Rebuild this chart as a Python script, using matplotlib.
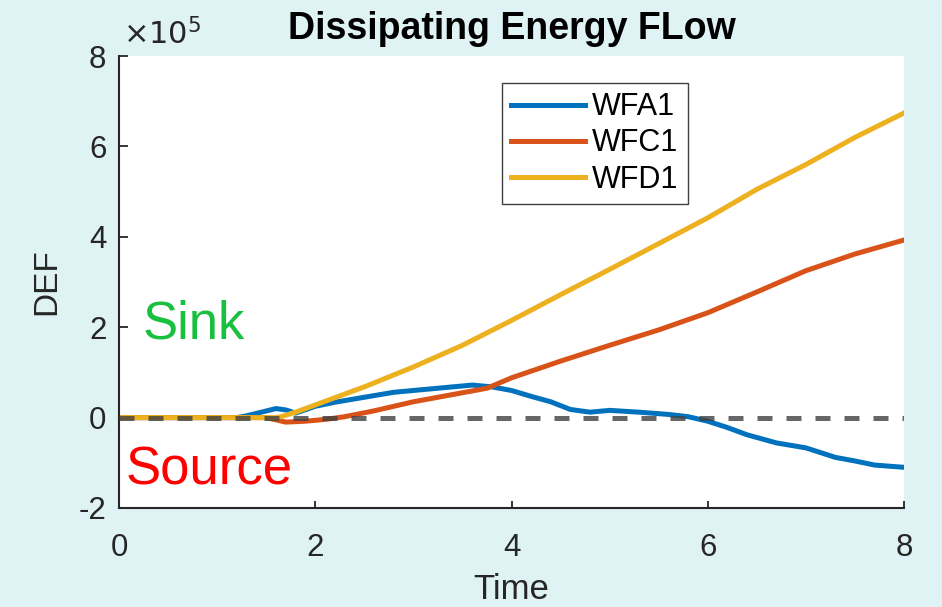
import matplotlib
matplotlib.use('Agg')
import matplotlib.pyplot as plt
from matplotlib.ticker import FuncFormatter

plt.rcParams['font.family'] = ['Liberation Sans', 'DejaVu Sans']

# values, DEF in units of 1e5
t_a = [0, 1.2, 1.3, 1.45, 1.6, 1.7, 1.8, 2.0, 2.2, 2.5, 2.8, 3.0, 3.3, 3.6, 3.8,
       4.0, 4.2, 4.4, 4.6, 4.8, 5.0, 5.3, 5.6, 5.8, 6.0, 6.2, 6.4, 6.7, 7.0,
       7.3, 7.5, 7.7, 8.0]
wfa1 = [0, 0, 0.04, 0.12, 0.2, 0.17, 0.1, 0.25, 0.34, 0.45, 0.56, 0.6, 0.66,
        0.72, 0.68, 0.6, 0.47, 0.35, 0.18, 0.12, 0.16, 0.12, 0.07, 0.02, -0.08,
        -0.22, -0.38, -0.56, -0.67, -0.88, -0.96, -1.05, -1.1]

t_c = [0, 1.5, 1.7, 1.9, 2.1, 2.3, 2.6, 3.0, 3.5, 3.75, 4.0, 4.5, 5.0, 5.5,
       6.0, 6.5, 7.0, 7.5, 8.0]
wfc1 = [0, 0, -0.1, -0.08, -0.04, 0.02, 0.15, 0.35, 0.55, 0.65, 0.88, 1.25,
        1.6, 1.94, 2.32, 2.78, 3.25, 3.62, 3.93]

t_d = [0, 1.6, 1.65, 1.8, 2.0, 2.5, 3.0, 3.5, 4.0, 4.5, 5.0, 5.5, 6.0, 6.5,
       7.0, 7.5, 8.0]
wfd1 = [0, 0, 0.02, 0.12, 0.28, 0.68, 1.12, 1.6, 2.15, 2.72, 3.28, 3.85,
        4.42, 5.05, 5.6, 6.2, 6.74]

labels = ['WFA1', 'WFC1', 'WFD1']
colors = ['#0072BD', '#D95319', '#EDB120']
zero_level = 0

bg = '#dff2f4'
fig = plt.figure(figsize=(9.42, 6.07), dpi=100, facecolor=bg)
ax = fig.add_axes([0.1263, 0.1631, 0.8334, 0.7446])
ax.set_facecolor('white')

ax.plot(t_a, wfa1, color=colors[0], lw=3.6, label=labels[0])
ax.plot(t_c, wfc1, color=colors[1], lw=3.6, label=labels[1])
ax.plot(t_d, wfd1, color=colors[2], lw=3.6, label=labels[2])
ax.axhline(zero_level, color='#404040', alpha=0.8, lw=3.6,
           dashes=(3, 2.8), zorder=5)

ax.set_xlim(0, 8)
ax.set_ylim(-2, 8)
ax.set_xticks([0, 2, 4, 6, 8])
ax.set_yticks([-2, 0, 2, 4, 6, 8])
ax.yaxis.set_major_formatter(FuncFormatter(lambda v, p: '%d' % v))
ax.xaxis.set_major_formatter(FuncFormatter(lambda v, p: '%d' % v))

for s in ['top', 'right']:
    ax.spines[s].set_visible(False)
for s in ['left', 'bottom']:
    ax.spines[s].set_linewidth(1.5)
    ax.spines[s].set_color('#262626')
ax.tick_params(axis='x', direction='in', length=5, width=1.3, colors='#262626',
               labelsize=22.5, pad=18)
ax.tick_params(axis='y', direction='in', length=6.5, width=1.3, colors='#262626',
               labelsize=22.5, pad=9)

ax.set_xlabel('Time', fontsize=25, color='#262626', labelpad=7)
ax.set_ylabel('DEF', fontsize=24, color='#262626', labelpad=12)
ax.set_title('Dissipating Energy FLow', fontsize=27, fontweight='bold', pad=12)
ax.text(0.005, 1.01, r'$\times10^{5}$', transform=ax.transAxes, fontsize=22,
        color='#262626', ha='left', va='bottom')

ax.text(0.245, 1.76, 'Sink', fontsize=38, color='#19c040')
ax.text(0.07, -1.47, 'Source', fontsize=38, color='#ff0000')

leg = ax.legend(loc='upper left', bbox_to_anchor=(0.488, 0.94), fontsize=22,
                handlelength=2.4, handletextpad=0.25, labelspacing=0.2,
                borderpad=0.3, fancybox=False, framealpha=1,
                edgecolor='#404040', borderaxespad=0)
leg.get_frame().set_linewidth(1.0)

fig.savefig('out.png', dpi=100, facecolor=bg)
